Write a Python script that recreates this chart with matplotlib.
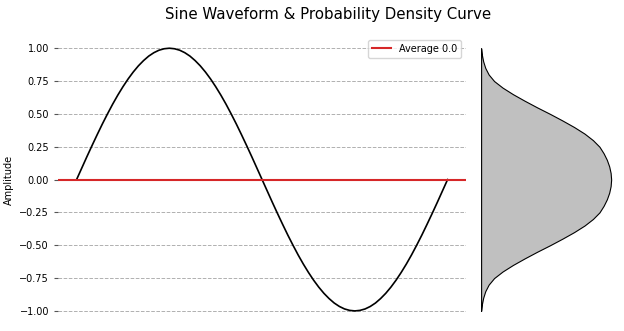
import matplotlib
matplotlib.use("Agg")
import matplotlib.pyplot as plt
import numpy as np

# sine waveform, first quarter read every 5 degrees (rest mirrors it)
phase_deg = np.arange(0, 361, 5)
quarter = [0.00, 0.087, 0.174, 0.259, 0.342, 0.423, 0.50, 0.574, 0.643, 0.707,
           0.766, 0.819, 0.866, 0.906, 0.94, 0.966, 0.985, 0.996, 1.00]
half_wave = quarter + quarter[-2::-1]
amplitude = half_wave + [-v for v in half_wave[1:]]
average = 0.0

# density curve (relative height), read every 0.05 of amplitude, centre -> edge
dens_level = np.round(np.arange(-1.0, 1.0001, 0.05), 2)
dens_half = [1.0, 0.996, 0.985, 0.967, 0.942, 0.91, 0.86, 0.795, 0.715, 0.625,
             0.53, 0.43, 0.335, 0.245, 0.165, 0.10, 0.058, 0.032, 0.016, 0.006, 0.0]
density = np.array(dens_half[::-1] + dens_half[1:])

fig = plt.figure(figsize=(6.24, 3.31), dpi=100)
ax = fig.add_axes([0.093, 0.021, 0.654, 0.873])
ax2 = fig.add_axes([0.771, 0.021, 0.223, 0.873], sharey=ax)

ax.plot(np.radians(phase_deg), amplitude, color='black', lw=1.2)
ax.axhline(average, color='tab:red', lw=1.5, label='Average %.1f' % average)
ax.set_ylabel('Amplitude', fontsize=7)
ax.tick_params(axis='y', labelsize=7, length=3, color='#555555')
ax.tick_params(axis='x', bottom=False, labelbottom=False)
ax.yaxis.grid(True, linestyle='--', color='#b0b0b0', lw=0.7)
ax.set_axisbelow(True)
for s in ax.spines.values():
    s.set_visible(False)
ax.legend(loc='upper right', fontsize=7)

ax2.fill_betweenx(dens_level, 0, density, facecolor='silver', edgecolor='black', lw=0.8)
ax2.set_xlim(0, density.max() * 1.07)
ax2.axis('off')

fig.suptitle('Sine Waveform & Probability Density Curve', fontsize=10.8, x=0.525, y=0.98)

fig.savefig('out.png', dpi=100)
